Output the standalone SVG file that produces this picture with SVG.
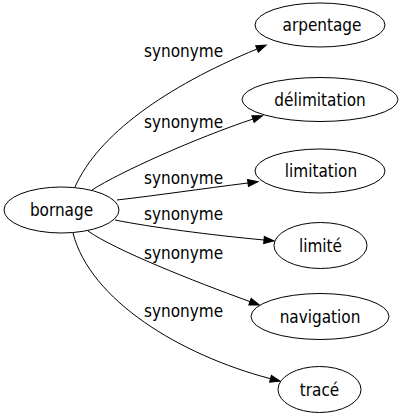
<svg xmlns="http://www.w3.org/2000/svg" width="403" height="419" viewBox="0 0 403 419">
<style>
.n{fill:#fff;stroke:#000;stroke-width:1}
.t{font-family:"DejaVu Sans Condensed","DejaVu Sans",sans-serif;font-size:17px;fill:#000;text-anchor:middle}
.e{fill:none;stroke:#000;stroke-width:1;marker-end:url(#a)}
</style>
<defs>
<marker id="a" markerUnits="userSpaceOnUse" markerWidth="11" markerHeight="8" refX="0" refY="3.5" orient="auto" overflow="visible">
<path d="M0,0 L10,3.5 L0,7 Z" fill="#000" stroke="#000" stroke-width="1"/>
</marker>
</defs>
<rect width="403" height="419" fill="#fff"/>
<g id="edges">
<path class="e" d="M75,187 C98,135 165,87 257,49"/>
<path class="e" d="M92,190 C120,172 196,138 253,119"/>
<path class="e" d="M117,200 C160,195 200,189 248,183"/>
<path class="e" d="M115,220 C150,227 210,235 264,240"/>
<path class="e" d="M88,231 C115,250 193,281 250,301.6"/>
<path class="e" d="M73,233 C90,300 180,355 270.5,378.7"/>
<text class="t" x="183.5" y="57.3">synonyme</text>
<text class="t" x="183.5" y="128.3">synonyme</text>
<text class="t" x="183.5" y="184">synonyme</text>
<text class="t" x="183.5" y="220">synonyme</text>
<text class="t" x="183.5" y="259">synonyme</text>
<text class="t" x="183.5" y="316.5">synonyme</text>
</g>
<g id="bornage"><ellipse class="n" cx="61.5" cy="210" rx="57.5" ry="23"/><text class="t" x="61.5" y="216">bornage</text></g>
<g id="arpentage"><ellipse class="n" cx="320" cy="25" rx="65" ry="22"/><text class="t" x="322" y="31">arpentage</text></g>
<g id="delimitation"><ellipse class="n" cx="320" cy="99.5" rx="78" ry="22"/><text class="t" x="320" y="105.5">délimitation</text></g>
<g id="limitation"><ellipse class="n" cx="320" cy="171" rx="65" ry="22"/><text class="t" x="321" y="177">limitation</text></g>
<g id="limite"><ellipse class="n" cx="320.5" cy="245.5" rx="46.5" ry="23"/><text class="t" x="320.5" y="251.5">limité</text></g>
<g id="navigation"><ellipse class="n" cx="320" cy="316.5" rx="69" ry="23"/><text class="t" x="320" y="322.5">navigation</text></g>
<g id="trace"><ellipse class="n" cx="319.5" cy="389.5" rx="41.5" ry="23"/><text class="t" x="319.5" y="395.5">tracé</text></g>
</svg>
